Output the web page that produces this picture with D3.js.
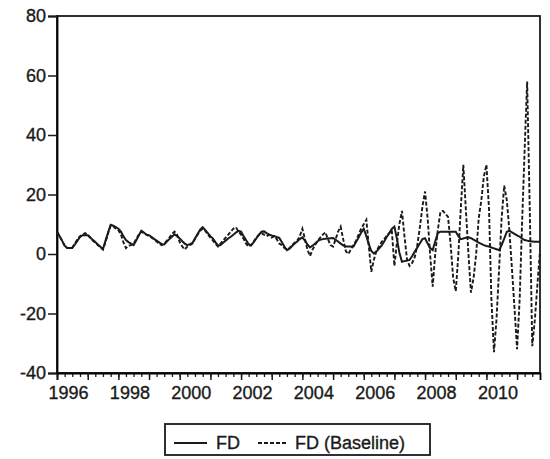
<!DOCTYPE html>
<html>
<head>
<meta charset="utf-8">
<script src="https://cdn.jsdelivr.net/npm/d3@7"></script>
<style>
  body { margin: 0; background: #fff; }
  text { font-family: "Liberation Sans", Arial, sans-serif; fill: #1a1a1a; stroke: #1a1a1a; stroke-width: 0.35px; }
</style>
</head>
<body>
<script>
// monthly observations, 1996M01 .. 2011M10
var fd = [
  7.5, 6, 4.5, 2.8, 2, 2, 2, 3.2, 4.5, 5.7, 6.3, 6.3,          // 1996
  6.3, 5.5, 4.8, 4, 3.2, 2.4, 1.7, 4.5, 7.3, 9.8, 9.5, 9,       // 1997
  8.5, 7.5, 6, 4.7, 4, 3.5, 3, 4.5, 6.2, 7.8, 7.2, 6.5,         // 1998
  6.3, 5.7, 5.1, 4.5, 3.9, 3.3, 3.2, 4.2, 5, 5.8, 6.6, 6,       // 1999
  5.2, 4.3, 3.5, 3, 3.3, 3.7, 5.2, 6.7, 8.2, 9, 8, 7,           // 2000
  6, 5.2, 4, 2.8, 3, 3.8, 4.5, 5.2, 5.8, 6.5, 7.2, 7.8,         // 2001
  7.5, 6, 4.7, 3.3, 2.9, 4, 5.2, 6.4, 7.5, 7.6, 7, 6.5,         // 2002
  6.2, 6, 5.7, 5.4, 4, 2.5, 1.3, 1.8, 2.7, 3.5, 4.2, 5,         // 2003
  5.6, 4.5, 3.2, 2.2, 2.8, 3.5, 4.3, 4.8, 5, 5.1, 5.2, 5.3,     // 2004
  5.4, 4.8, 4.2, 3.5, 2.9, 2.5, 2.5, 2.5, 2.5, 4, 5.5, 7.2,     // 2005
  8.5, 6, 3.4, 1, 0.2, 0.8, 1.8, 2.8, 4.2, 5.7, 7, 8.4,         // 2006
  9.2, 5, 0.5, -2.6, -2.4, -2.2, -2, -0.7, 0.8, 2.2, 3.6, 5,    // 2007
  5.3, 3.5, 2, 1.3, 4.2, 7, 7.5, 7.5, 7.5, 7.5, 7.5, 7.5,       // 2008
  7.5, 6, 5, 5.2, 5.5, 5.6, 5.3, 4.8, 4.3, 3.8, 3.4, 3,         // 2009
  2.7, 2.5, 2.2, 1.9, 1.6, 1.3, 3, 5.2, 7.5, 7.8, 7.3, 6.8,     // 2010
  6.3, 5.8, 5.2, 4.7, 4.5, 4.3, 4.2, 4.1, 4.1, 4.1              // 2011
];

var fdBaseline = [
  7.5, 6, 4.5, 2.8, 2, 2, 2.2, 3.5, 5, 6, 6.5, 7,               // 1996
  6.5, 5.5, 4.5, 3.8, 3, 2.2, 1.5, 4, 7, 9.5, 9.3, 8.5,         // 1997
  8, 6.5, 4, 2, 2.8, 3, 3.5, 5, 6.5, 7.5, 7, 6.5,               // 1998
  6, 5.5, 5, 4.2, 3.5, 3, 3.5, 4.5, 5.5, 6.8, 7.5, 6.5,         // 1999
  4, 2.5, 1.5, 2.5, 3, 3.5, 5, 6.5, 7.8, 8.5, 7.8, 6.5,         // 2000
  5.5, 4.5, 3.5, 2.5, 3.5, 4.5, 5.5, 6.5, 7.5, 8.5, 9, 7.5,     // 2001
  6.5, 5, 3.5, 2.5, 3, 4.2, 5.5, 6.5, 7, 6.5, 6, 6.5,           // 2002
  5.5, 6, 5, 3.5, 3, 2, 1.5, 2, 3, 3.8, 4.5, 6,                 // 2003
  8.5, 5, 1.5, -0.7, 1.5, 3, 4.5, 5.5, 6.5, 7.3, 5, 3,          // 2004
  2.5, 5, 7.5, 9.2, 5, 1, 0, 1.5, 3, 4.5, 6.5, 8.5,             // 2005
  10, 11.5, 3, -6, -2, 1, 2.5, 4, 5, 6, 7, 8,                   // 2006
  -4, 4, 10, 14.5, 6, -2, -4, -3, -1, 3, 9, 16,                 // 2007
  21, 12, 0, -11, 0, 8, 14, 14.5, 13.5, 12.5, 3, -8,            // 2008
  -12.5, 0, 15, 30, 15, 0, -13, -8, 0, 12, 18, 26,              // 2009
  30, 15, -15, -33, -22, -5, 12, 23, 18, 8, -5, -18,            // 2010
  -32, -15, 10, 35, 58, 15, -31, -22, -10, 1                    // 2011
];

var yTicks = [-40, -20, 0, 20, 40, 60, 80];
var yearLabels = [1996, 1998, 2000, 2002, 2004, 2006, 2008, 2010];
var seriesNames = ["FD", "FD (Baseline)"];

var width = 550, height = 459;
var plotLeft = 57, plotRight = 540, plotTop = 16, plotBottom = 373;
var ink = "#1a1a1a";

var dates = fd.map((d, i) => new Date(1996, i, 1));

var svg = d3.select("body")
            .append("svg")
            .attr("width", width)
            .attr("height", height);

var x = d3.scaleTime()
          .domain([dates[0], dates[dates.length - 1]])
          .range([plotLeft, plotRight]);

var y = d3.scaleLinear()
          .domain([-40, 80])
          .range([plotBottom, plotTop]);

// frame
svg.append("rect")
   .attr("x", plotLeft).attr("y", plotTop)
   .attr("width", plotRight - plotLeft).attr("height", plotBottom - plotTop)
   .attr("fill", "none")
   .attr("stroke", ink)
   .attr("stroke-width", 1.8);

// y axis (plain hyphen for negatives, like the original)
var yAxis = svg.append("g")
               .attr("transform", "translate(" + plotLeft + ",0)")
               .call(d3.axisLeft(y)
                       .tickValues(yTicks)
                       .tickSize(9)
                       .tickPadding(2)
                       .tickFormat(d => String(d)));
yAxis.select(".domain").attr("stroke-width", 1.8);
yAxis.selectAll(".tick line").attr("stroke", ink).attr("stroke-width", 1.5);
yAxis.selectAll("text").attr("font-size", 18).attr("fill", ink)
     .attr("font-family", "Liberation Sans, Arial, sans-serif");

// x axis: quarterly minor ticks, yearly major ticks
var quarters = d3.timeMonth.every(3).range(dates[0], x.domain()[1]);
svg.append("g")
   .attr("transform", "translate(0," + plotBottom + ")")
   .call(d3.axisBottom(x).tickValues(quarters).tickSize(4).tickFormat(""))
   .call(g => g.select(".domain").remove())
   .selectAll(".tick line").attr("stroke", ink).attr("stroke-width", 1.3);

var years = d3.range(1996, 2012).map(yr => new Date(yr, 0, 1));
var xAxis = svg.append("g")
               .attr("transform", "translate(0," + plotBottom + ")")
               .call(d3.axisBottom(x)
                       .tickValues(years)
                       .tickSize(7)
                       .tickPadding(6)
                       .tickFormat(d => yearLabels.indexOf(d.getFullYear()) >= 0 ? d.getFullYear() : ""));
xAxis.select(".domain").attr("stroke-width", 1.8);
xAxis.selectAll(".tick line").attr("stroke", ink).attr("stroke-width", 1.5);
xAxis.selectAll("text")
     .attr("font-size", 18)
     .attr("fill", ink)
     .attr("dx", 11)
     .attr("font-family", "Liberation Sans, Arial, sans-serif");

// series
var line = d3.line()
             .x((d, i) => x(dates[i]))
             .y(d => y(d));

svg.append("path")
   .datum(fdBaseline)
   .attr("fill", "none")
   .attr("stroke", ink)
   .attr("stroke-width", 1.9)
   .attr("stroke-dasharray", "4,2")
   .attr("d", line);

svg.append("path")
   .datum(fd)
   .attr("fill", "none")
   .attr("stroke", ink)
   .attr("stroke-width", 2)
   .attr("d", line);

// legend
var legend = svg.append("g");
legend.append("rect")
      .attr("x", 165).attr("y", 424)
      .attr("width", 265).attr("height", 31)
      .attr("fill", "none")
      .attr("stroke", ink)
      .attr("stroke-width", 1.8);

[["none", 174, 207, 216], ["4,2", 258, 287, 295]].forEach((s, i) => {
  legend.append("line")
        .attr("x1", s[1]).attr("x2", s[2])
        .attr("y1", 443).attr("y2", 443)
        .attr("stroke", ink)
        .attr("stroke-width", 1.8)
        .attr("stroke-dasharray", s[0]);
  legend.append("text")
        .attr("x", s[3]).attr("y", 449)
        .attr("font-size", 18)
        .text(seriesNames[i]);
});
</script>
</body>
</html>
